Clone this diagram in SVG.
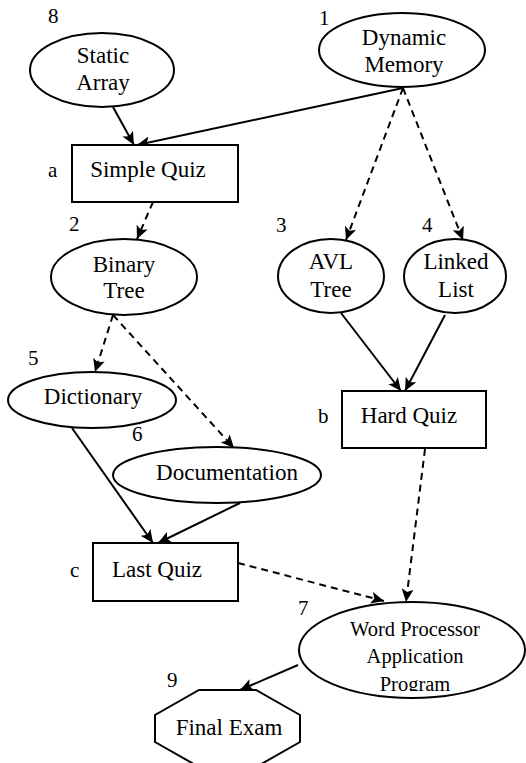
<svg xmlns="http://www.w3.org/2000/svg" width="526" height="763" viewBox="0 0 526 763">
<style>
.shape{fill:#fff;stroke:#000;stroke-width:2}
.t{font-family:"Liberation Serif","Times New Roman",serif;font-size:23px;fill:#000;text-anchor:middle}
.wp{font-size:20.5px}
.num{font-family:"Liberation Serif","Times New Roman",serif;font-size:21px;fill:#000}
.e{fill:none;stroke:#000;stroke-width:2}
.d{stroke-dasharray:7 5}
</style>
<defs>
<marker id="ah" markerUnits="userSpaceOnUse" markerWidth="14" markerHeight="12" refX="13" refY="6" orient="auto">
<path d="M0,0 L13,6 L0,12 L3,6 z" fill="#000"/>
</marker>
<clipPath id="wpclip"><rect x="290" y="590" width="240" height="101"/></clipPath>
</defs>
<g id="connectors">
<line class="e" x1="113" y1="107" x2="134" y2="145" marker-end="url(#ah)"/>
<line class="e" x1="403" y1="88" x2="137" y2="145" marker-end="url(#ah)"/>
<line class="e d" x1="403" y1="88" x2="346" y2="240" marker-end="url(#ah)"/>
<line class="e d" x1="403" y1="88" x2="463" y2="240" marker-end="url(#ah)"/>
<line class="e d" x1="153" y1="202" x2="137" y2="239" marker-end="url(#ah)"/>
<line class="e d" x1="113" y1="315" x2="95" y2="372" marker-end="url(#ah)"/>
<line class="e d" x1="113" y1="315" x2="234" y2="448" marker-end="url(#ah)"/>
<line class="e" x1="341" y1="313" x2="401" y2="391" marker-end="url(#ah)"/>
<line class="e" x1="445" y1="315" x2="405" y2="391" marker-end="url(#ah)"/>
<line class="e" x1="72" y1="428" x2="153" y2="543" marker-end="url(#ah)"/>
<line class="e" x1="240" y1="503" x2="158" y2="543" marker-end="url(#ah)"/>
<line class="e d" x1="425" y1="449" x2="406" y2="602" marker-end="url(#ah)"/>
<line class="e d" x1="238" y1="563" x2="384" y2="601" marker-end="url(#ah)"/>
<line class="e" x1="298" y1="665" x2="240" y2="690" marker-end="url(#ah)"/>
</g>
<g id="static-array">
<ellipse class="shape" cx="102" cy="70" rx="72" ry="37"/>
<text class="num" x="48" y="23">8</text>
<text class="t" x="103" y="63">Static</text>
<text class="t" x="103" y="90">Array</text>
</g>
<g id="dynamic-memory">
<ellipse class="shape" cx="402" cy="50" rx="83" ry="37"/>
<text class="num" x="319" y="25">1</text>
<text class="t" x="404" y="45">Dynamic</text>
<text class="t" x="404" y="72">Memory</text>
</g>
<g id="simple-quiz">
<rect class="shape" x="72" y="145" width="166" height="57"/>
<text class="num" x="48" y="177">a</text>
<text class="t" x="148" y="177">Simple Quiz</text>
</g>
<g id="binary-tree">
<ellipse class="shape" cx="124" cy="277" rx="73" ry="38"/>
<text class="num" x="69" y="231">2</text>
<text class="t" x="124" y="272">Binary</text>
<text class="t" x="124" y="298">Tree</text>
</g>
<g id="avl-tree">
<ellipse class="shape" cx="331" cy="276" rx="53" ry="37"/>
<text class="num" x="276" y="232">3</text>
<text class="t" x="331" y="269">AVL</text>
<text class="t" x="331" y="297">Tree</text>
</g>
<g id="linked-list">
<ellipse class="shape" cx="455" cy="276" rx="51" ry="37"/>
<text class="num" x="422" y="232">4</text>
<text class="t" x="456" y="269">Linked</text>
<text class="t" x="456" y="297">List</text>
</g>
<g id="dictionary">
<ellipse class="shape" cx="92" cy="400" rx="84" ry="28"/>
<text class="num" x="28" y="365">5</text>
<text class="t" x="93" y="404">Dictionary</text>
</g>
<g id="documentation">
<ellipse class="shape" cx="217" cy="475" rx="104" ry="28"/>
<text class="num" x="132" y="441">6</text>
<text class="t" x="227" y="480">Documentation</text>
</g>
<g id="hard-quiz">
<rect class="shape" x="342" y="391" width="144" height="57"/>
<text class="num" x="318" y="423">b</text>
<text class="t" x="409" y="423">Hard Quiz</text>
</g>
<g id="last-quiz">
<rect class="shape" x="93" y="543" width="145" height="58"/>
<text class="num" x="70" y="577">c</text>
<text class="t" x="157" y="577">Last Quiz</text>
</g>
<g id="word-processor">
<ellipse class="shape" cx="412" cy="650" rx="113" ry="48"/>
<text class="num" x="298" y="615">7</text>
<text class="t wp" x="415" y="636">Word Processor</text>
<text class="t wp" x="415" y="663">Application</text>
<text class="t wp" x="415" y="691" clip-path="url(#wpclip)">Program</text>
</g>
<g id="final-exam">
<polygon class="shape" points="199,690 256,690 300,715 300,742 256,767 199,767 155,742 155,715"/>
<text class="num" x="167" y="687">9</text>
<text class="t" x="229" y="735">Final Exam</text>
</g>
</svg>
